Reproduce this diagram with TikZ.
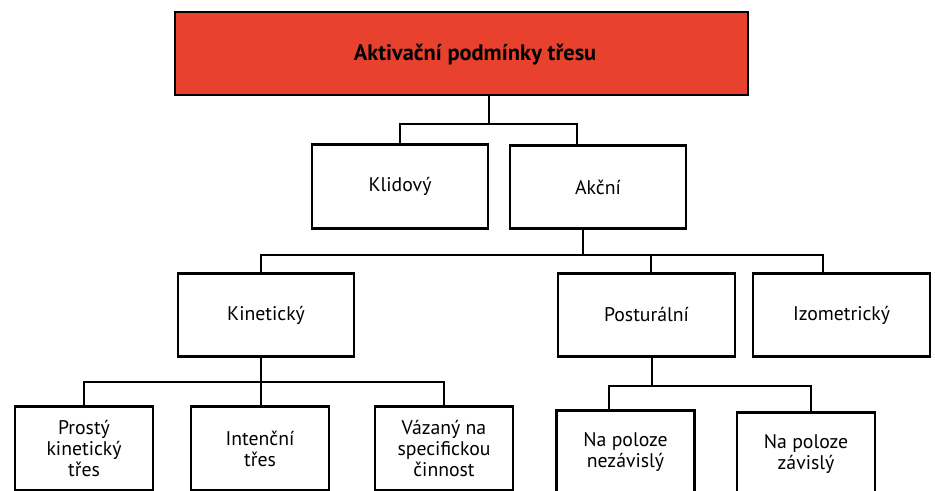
\documentclass[tikz,border=0pt]{standalone}
\usepackage{fontspec}
\setmainfont{PT Sans}

\tikzset{
  krabice/.style={draw=black, line width=2.2pt, fill=white, align=center, inner sep=0pt,
    font=\fontsize{14.8}{15.6}\selectfont},
  siroka/.style={krabice, minimum width=132pt, minimum height=62.5pt},
  uzka/.style={krabice, minimum width=103.5pt, minimum height=62.5pt},
  spoj/.style={line width=2.2pt, line cap=rect}
}

\begin{document}
\begin{tikzpicture}[x=0.75pt,y=0.75pt,yscale=-1,xscale=1]
%set diagram left start at 0, and has height of 491
\useasboundingbox (0,0) rectangle (935,491);
\clip (0,0) rectangle (935,491);

%Shape: Rectangle [top]
\node [krabice, fill={rgb, 255:red, 232; green, 65; blue, 46 }, minimum width=429.75pt, minimum height=62.25pt] (top) at (461.5,53.5) {};
% Text Node
\node [font=\bfseries\fontsize{16.8}{18}\selectfont] (title) at (475,55) {Aktivační podmínky třesu};

%Shape: Rectangle [level 1]
\node [siroka] (klid) at (400,186.5) {Klidový};
\node [siroka] (akc) at (598,187) {Akční};

%Shape: Rectangle [level 2]
\node [siroka] (kin) at (266,315) {Kinetický};
\node [siroka, minimum width=132.75pt] (post) at (646.5,315) {Posturální};
\node [siroka, minimum width=132.75pt] (izo) at (841.5,315) {Izometrický};

%Shape: Rectangle [level 3]
\node [uzka] (prost) at (84,448.5) {Prostý\\kinetický\\třes};
\node [uzka] (inten) at (260,448.5) {Intenční\\třes};
\node [uzka] (vaz) at (444,448.5) {Vázaný na\\specifickou\\činnost};
\node [uzka] (nez) at (625.5,452) {Na poloze\\nezávislý};
\node [uzka] (zav) at (806,454) {Na poloze\\závislý};

% junctions
\coordinate (j1) at (489,124);
\coordinate (a1) at (577,145);
\coordinate (j2) at (583,255);
\coordinate (k1) at (261,273);
\coordinate (p1) at (651,273);
\coordinate (i1) at (823,273);
\coordinate (j3) at (261,382);
\coordinate (j4) at (652,386);
\coordinate (n1) at (609,410);
\coordinate (z1) at (811,412);

%Lines
\draw [spoj] (top.south -| j1) -- (j1);
\draw [spoj] (klid.north) |- (j1) -| (a1);
\draw [spoj] (akc.south -| j2) -- (j2);
\draw [spoj] (k1) |- (j2) -| (i1);
\draw [spoj] (j2 -| p1) -- (p1);
\draw [spoj] (kin.south -| j3) -- (j3);
\draw [spoj] (prost.north) |- (j3) -| (vaz.north);
\draw [spoj] (j3) -- (j3 |- inten.north);
\draw [spoj] (post.south -| j4) -- (j4);
\draw [spoj] (n1) |- (j4) -| (z1);

\end{tikzpicture}
\end{document}
